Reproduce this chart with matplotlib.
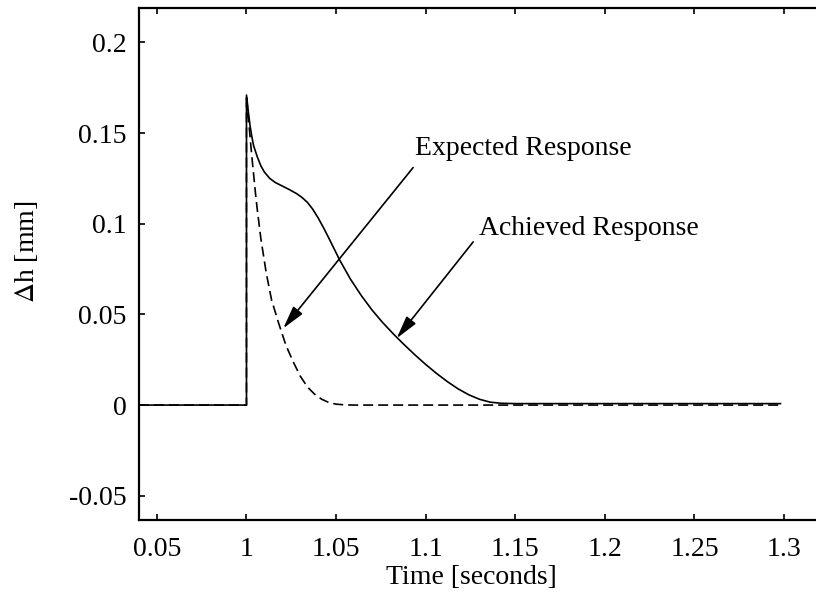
import numpy as np
from matplotlib import pyplot as plt

plt.rcParams['font.family'] = ['Liberation Serif', 'DejaVu Serif']
plt.rcParams['mathtext.fontset'] = 'stix'

# achieved response (solid)
t_achieved = [0.94, 1.0, 1.0, 1.001, 1.002, 1.003, 1.004, 1.006, 1.008, 1.010, 1.013,
              1.016, 1.020, 1.024, 1.028, 1.031, 1.034, 1.037, 1.040, 1.043, 1.046,
              1.049, 1.052, 1.058, 1.064, 1.070, 1.076, 1.082, 1.088, 1.094, 1.100,
              1.106, 1.112, 1.118, 1.124, 1.130, 1.136, 1.142, 1.15, 1.2, 1.25, 1.298]
dh_achieved = [0.0, 0.0, 0.171, 0.162, 0.154, 0.148, 0.143, 0.137, 0.132, 0.1285, 0.125,
               0.1228, 0.1208, 0.1188, 0.1166, 0.1145, 0.1118, 0.108, 0.1032, 0.0978, 0.092,
               0.086, 0.080, 0.0695, 0.0605, 0.0525, 0.0455, 0.0392, 0.0333, 0.0277, 0.0224,
               0.0175, 0.013, 0.009, 0.0057, 0.0032, 0.0016, 0.001, 0.0008, 0.0008, 0.0008,
               0.0008]

# expected response (dashed)
t_expected = [0.94, 1.0, 1.0, 1.001, 1.002, 1.003, 1.004, 1.005, 1.006, 1.008, 1.011,
              1.014, 1.018, 1.022, 1.026, 1.030, 1.034, 1.038, 1.042, 1.046, 1.050,
              1.055, 1.06, 1.1, 1.2, 1.298]
dh_expected = [0.0, 0.0, 0.171, 0.159, 0.148, 0.137, 0.127, 0.117, 0.108, 0.092, 0.073,
               0.058, 0.045, 0.033, 0.024, 0.016, 0.010, 0.006, 0.0032, 0.0014, 0.0005,
               0.0001, 0.0, 0.0, 0.0, 0.0]

xticks = [0.95, 1.0, 1.05, 1.1, 1.15, 1.2, 1.25, 1.3]
xtick_labels = ['0.05', '1', '1.05', '1.1', '1.15', '1.2', '1.25', '1.3']
yticks = [-0.05, 0.0, 0.05, 0.1, 0.15, 0.2]
ytick_labels = ['-0.05', '0', '0.05', '0.1', '0.15', '0.2']

fs = 20

fig = plt.figure(figsize=(8.16, 6.07), dpi=100)
ax = fig.add_axes([0.1703, 0.1433, 0.8345, 0.8435])

ax.plot(t_expected, dh_expected, color='k', lw=1.2, linestyle=(0, (6, 3)))
ax.plot(t_achieved, dh_achieved, color='k', lw=1.2)

ax.set_xlim(0.94, 1.32)
ax.set_ylim(-0.0634, 0.219)

ax.set_xticks(xticks)
ax.set_xticklabels(xtick_labels, fontsize=fs)
ax.set_yticks(yticks)
ax.set_yticklabels(ytick_labels, fontsize=fs)
ax.tick_params(direction='in', length=4.5, width=1.2, top=True, right=False, colors='k')
ax.tick_params(axis='x', pad=12)
ax.tick_params(axis='y', pad=9)
ax.spines['right'].set_visible(False)
for s in ['left', 'bottom', 'top']:
    ax.spines[s].set_linewidth(1.6)

ax_w = 0.8345 * 816
ax_h = 0.8435 * 607
ax.set_xlabel('Time [seconds]', fontsize=fs)
ax.set_ylabel(r'$\Delta$h [mm]', fontsize=fs)
ax.xaxis.set_label_coords((471 - 139) / ax_w, -(565 - 520) / ax_h)
ax.yaxis.set_label_coords(-(139 - 40) / ax_w, (520 - 252) / ax_h)

arrow = dict(arrowstyle='-|>,head_length=0.7,head_width=0.18', mutation_scale=20,
             color='k', lw=1.2, shrinkA=0, shrinkB=0)
ax.annotate('', xy=(1.0205, 0.0423), xytext=(1.093, 0.131), arrowprops=arrow)
ax.annotate('', xy=(1.0838, 0.0368), xytext=(1.1265, 0.090), arrowprops=arrow)
ax.text(1.094, 0.1378, 'Expected Response', fontsize=fs, va='baseline', ha='left')
ax.text(1.1297, 0.0937, 'Achieved Response', fontsize=fs, va='baseline', ha='left')

fig.savefig('out.png', dpi=100)
